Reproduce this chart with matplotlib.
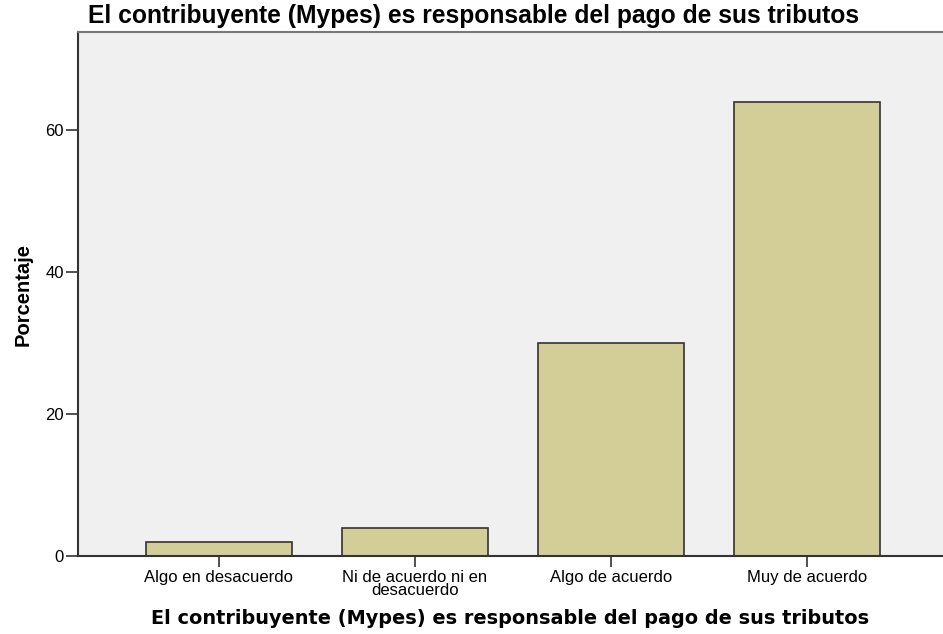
import matplotlib
matplotlib.use('Agg')
import matplotlib.pyplot as plt

categories = ["Algo en desacuerdo", "Ni de acuerdo ni en\ndesacuerdo",
              "Algo de acuerdo", "Muy de acuerdo"]
porcentaje = [2, 4, 30, 64]
yticks = [0, 20, 40, 60]
title = "El contribuyente (Mypes) es responsable del pago de sus tributos"

BAR = '#D3CE97'
BG = '#F0F0F0'
DARK = '#333333'
SANS = ['Liberation Sans', 'DejaVu Sans']

fig = plt.figure(figsize=(9.43, 6.34), dpi=100)
ax = fig.add_axes([78 / 943, 1 - 556 / 634, 1 - 78 / 943, (556 - 32) / 634])
ax.set_facecolor(BG)

x = list(range(len(categories)))
ax.bar(x, porcentaje, width=0.745, color=BAR, edgecolor=DARK, linewidth=1.2, zorder=2)

ax.set_xlim(-0.719, 3.694)
ax.set_ylim(0, 73.8)
ax.set_yticks(yticks)
ax.set_xticks(x)
ax.set_xticklabels(categories, fontsize=12, family=SANS, linespacing=0.85)
ax.tick_params(axis='y', length=9, width=1.2, color=DARK, labelsize=12, pad=1)
ax.tick_params(axis='x', length=8, width=1.2, color=DARK, pad=2)
for lbl in ax.get_yticklabels():
    lbl.set_family(SANS)

for side in ['left', 'bottom']:
    ax.spines[side].set_color(DARK)
    ax.spines[side].set_linewidth(1.5)
ax.spines['top'].set_color('#777777')
ax.spines['top'].set_linewidth(1.5)
ax.spines['right'].set_visible(False)

ax.set_xlabel(title, fontsize=13.9, fontweight='bold', family='DejaVu Sans', labelpad=8)
ax.set_ylabel('Porcentaje', fontsize=14.5, fontweight='bold', family=SANS)
ax.yaxis.set_label_coords(-0.053, 0.5)

fig.text(88 / 943, 1 - 16 / 634, title, fontsize=17.75, fontweight='bold',
         family=SANS, va='center', ha='left')

fig.savefig('out.png', dpi=100, facecolor='white')
